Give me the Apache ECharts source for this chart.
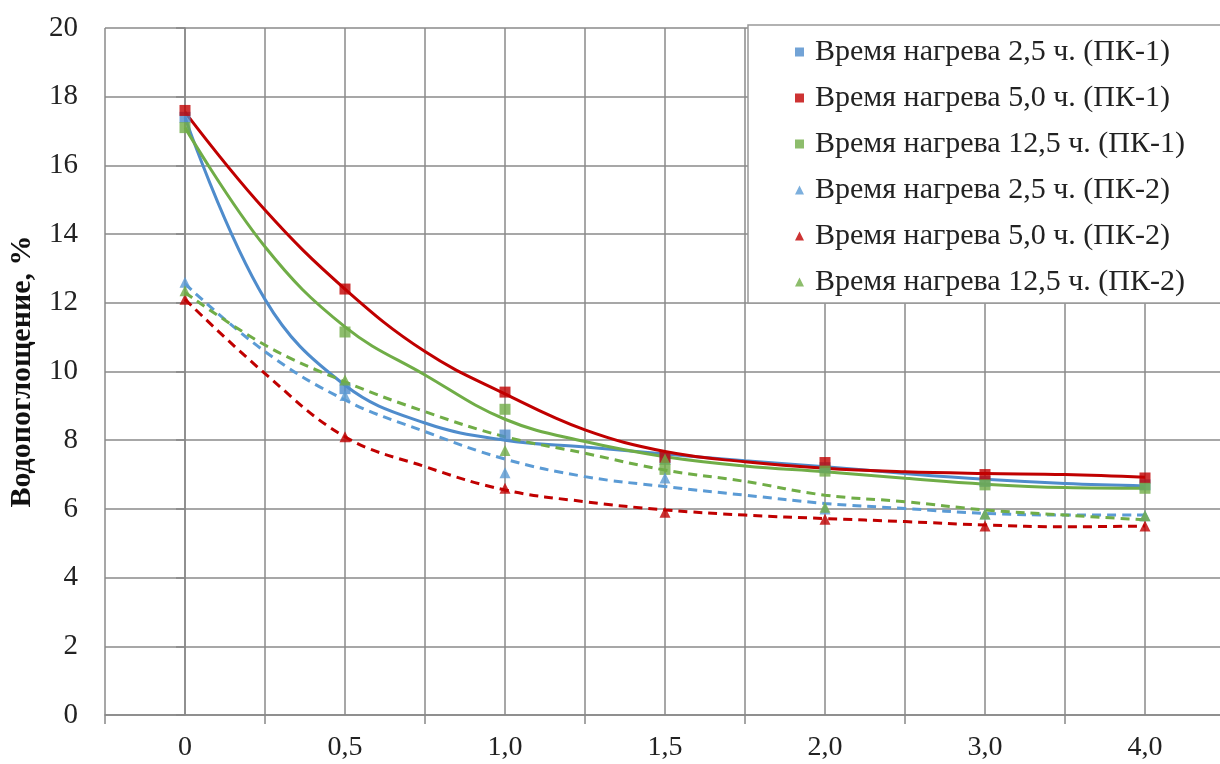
<!DOCTYPE html>
<html>
<head>
    <meta charset="utf-8">
    <title>Водопоглощение</title>
    <script src="https://cdn.jsdelivr.net/npm/echarts@6/dist/echarts.min.js"></script>
    <style>
        html, body { margin: 0; padding: 0; background: #fff; }
    </style>
</head>
<body>
<div id="main" style="width: 1220px;height:764px;"></div>
<script type="text/javascript">
    // категории по оси X
    var xLabels = ['0', '0,5', '1,0', '1,5', '2,0', '3,0', '4,0'];

    // точки (маркеры)
    var pk1_25 = [17.4, 9.5, 8.15, 7.45, 7.2, 6.8, 6.7];
    var pk1_50 = [17.6, 12.4, 9.4, 7.5, 7.35, 7.0, 6.9];
    var pk1_125 = [17.1, 11.15, 8.9, 7.15, 7.1, 6.7, 6.6];
    var pk2_25 = [12.6, 9.3, 7.05, 6.9, 6.0, 5.85, 5.8];
    var pk2_50 = [12.1, 8.1, 6.6, 5.9, 5.7, 5.5, 5.5];
    var pk2_125 = [12.35, 9.75, 7.7, 7.45, 6.05, 5.85, 5.8];

    var trendX = [0, 0.5, 1, 1.5, 2, 2.5, 3, 3.5, 4, 4.5, 5, 5.5, 6];
    var tr1_25 = [17.4, 12.1, 9.6, 8.5, 8.0, 7.8, 7.6, 7.4, 7.23, 7.03, 6.86, 6.74, 6.67];
    var tr1_50 = [17.55, 14.7, 12.4, 10.58, 9.35, 8.3, 7.67, 7.37, 7.18, 7.08, 7.03, 7.0, 6.92];
    var tr1_125 = [17.1, 13.63, 11.3, 9.9, 8.61, 7.96, 7.52, 7.25, 7.08, 6.89, 6.72, 6.62, 6.6];
    var tr2_25 = [12.55, 10.58, 9.17, 8.25, 7.45, 6.94, 6.65, 6.4, 6.16, 6.01, 5.87, 5.82, 5.82];
    var tr2_50 = [12.1, 9.94, 8.1, 7.23, 6.55, 6.21, 5.97, 5.82, 5.72, 5.63, 5.53, 5.48, 5.5];
    var tr2_125 = [12.3, 10.77, 9.7, 8.83, 8.1, 7.62, 7.13, 6.8, 6.4, 6.21, 5.97, 5.82, 5.68];

    var names = [
        'Время нагрева 2,5 ч. (ПК-1)',
        'Время нагрева 5,0 ч. (ПК-1)',
        'Время нагрева 12,5 ч. (ПК-1)',
        'Время нагрева 2,5 ч. (ПК-2)',
        'Время нагрева 5,0 ч. (ПК-2)',
        'Время нагрева 12,5 ч. (ПК-2)'
    ];
    var colors = ['#4f8ccc', '#c00000', '#70ad47', '#5b9bd5', '#c00000', '#70ad47'];
    var points = [pk1_25, pk1_50, pk1_125, pk2_25, pk2_50, pk2_125];
    var trends = [tr1_25, tr1_50, tr1_125, tr2_25, tr2_50, tr2_125];

    var serif = '"Liberation Serif", "DejaVu Serif", serif';

    function pairs(arr) {
        return trendX.map(function (x, i) { return [x, arr[i]]; });
    }

    var series = [];
    // сначала линии тренда
    for (var i = 0; i < 6; i++) {
        series.push({
            name: 'trend' + i,
            type: 'line',
            xAxisIndex: 1,
            smooth: 0.4,
            symbol: 'none',
            silent: true,
            lineStyle: {
                color: colors[i],
                width: 3,
                type: i >= 3 ? [9, 6] : 'solid'
            },
            data: pairs(trends[i])
        });
    }
    // потом маркеры
    for (var j = 0; j < 6; j++) {
        series.push({
            name: names[j],
            type: 'scatter',
            xAxisIndex: 0,
            symbol: j < 3 ? 'rect' : 'triangle',
            symbolSize: 11,
            itemStyle: { color: colors[j] },
            z: 3,
            data: points[j]
        });
    }

    var myChart = echarts.init(document.getElementById('main'));
    myChart.setOption({
        animation: false,
        backgroundColor: '#fff',
        grid: { left: 105, top: 28, width: 1120, height: 687, outerBoundsMode: 'none', containLabel: false },
        legend: {
            data: names.map(function (n, k) {
                return { name: n, icon: k < 3 ? 'rect' : 'triangle' };
            }),
            orient: 'vertical',
            left: 748,
            top: 25,
            padding: [12, 60, 6, 47],
            itemGap: 16,
            itemWidth: 9,
            itemHeight: 9,
            backgroundColor: '#fff',
            borderColor: '#999',
            borderWidth: 1.5,
            textStyle: {
                fontFamily: serif,
                fontSize: 30,
                lineHeight: 30,
                color: '#222',
                padding: [0, 0, 0, 6]
            }
        },
        xAxis: [{
            type: 'category',
            data: xLabels,
            boundaryGap: true,
            axisLine: { lineStyle: { color: '#888', width: 1.5 } },
            axisTick: { show: true, length: 9, lineStyle: { color: '#888', width: 1.5 } },
            axisLabel: { fontFamily: serif, fontSize: 28, color: '#222', margin: 19 },
            splitLine: { show: false }
        }, {
            type: 'value',
            min: -0.5,
            max: 6.5,
            interval: 0.5,
            position: 'bottom',
            axisLine: { show: false },
            axisTick: { show: false },
            axisLabel: { show: false },
            splitLine: { show: true, lineStyle: { color: '#8a8a8a', width: 1.5 } }
        }],
        yAxis: {
            type: 'value',
            min: 0,
            max: 20,
            interval: 2,
            name: 'Водопоглощение, %',
            nameLocation: 'middle',
            nameGap: 68,
            nameTextStyle: { fontFamily: serif, fontSize: 30, fontWeight: 'bold', color: '#111' },
            axisLine: { show: true, lineStyle: { color: '#888', width: 1.5 } },
            axisTick: { show: true, length: 9, lineStyle: { color: '#888', width: 1.5 } },
            axisLabel: { fontFamily: serif, fontSize: 29, color: '#222', margin: 27 },
            splitLine: { show: true, lineStyle: { color: '#8a8a8a', width: 1.5 } }
        },
        series: series
    });
</script>
</body>
</html>
